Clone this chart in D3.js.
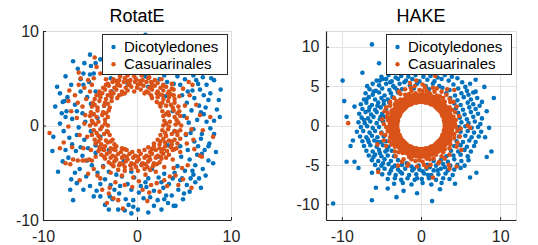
<!DOCTYPE html>
<html>
<head>
<meta charset="utf-8">
<script src="https://cdn.jsdelivr.net/npm/d3@7"></script>
<style>
  body { margin: 0; background: #fff; }
  svg { display: block; font-family: "Liberation Sans", Arial, sans-serif; }
</style>
</head>
<body>
<svg id="chart" width="538" height="245"></svg>
<script>
let series_names = ["Dicotyledones", "Casuarinales"]
let series_colors = ["#0072BD", "#D95319"]

let rotate_x_ticks = [-10, 0, 10]
let rotate_y_ticks = [-10, 0, 10]
let hake_x_ticks = [-10, 0, 10]
let hake_y_ticks = [-10, -5, 0, 5, 10]

// RotatE, Dicotyledones
let rotate_blue = [
  [0.9,9.6],[-5.0,7.5],[-6.8,6.8],[-8.7,2.0],[-8.2,3.4],[-7.7,2.6],[-7.0,4.3],[-8.2,0.2],[-8.4,-4.9],[-6.8,-7.9],[-0.6,-9.3],[2.6,-8.9],[3.9,-8.5],[4.1,-8.5],[8.1,-4.0],[8.7,2.7],[8.5,1.7],[8.2,4.8],[6.3,4.8],[6.7,3.8],[7.6,2.7],[7.1,1.2],[7.7,-1.9],[7.6,-2.2],[6.5,-2.2],[6.9,-3.0],[6.0,-5.2],[5.7,-5.6],[4.8,-5.6],[2.8,-6.6],[-2.9,-7.5],[-3.9,-7.5],[-0.4,-7.9],[-0.4,-8.6],[0.7,-7.7],
  [-5.7,5.5],[-5.0,5.4],[-4.6,5.5],[-5.7,4.3],[-7.9,2.5],[-7.5,1.5],[-6.3,6.0],[-4.4,6.6],[-3.9,7.0],[-6.0,3.6],[-5.3,3.0],[-6.6,2.2],[-5.8,1.3],[-4.9,2.3],[-4.4,3.6],[-5.1,4.6],[-6.9,0.7],[-6.2,-0.2],[-5.5,0.4],[-4.7,1.2],[-7.8,-0.6],
  [-7.2,-1.3],[-6.4,-1.0],[-5.6,-1.5],[-4.9,-0.6],[-5.2,-2.4],[-6.5,-2.7],[-7.3,-3.4],[-4.4,-2.9],[-5.8,-3.2],[-4.8,-4.2],[-6.1,-4.6],[-5.4,-5.4],[-4.2,-5.0],[-3.6,-4.3],[-6.4,-6.1],[-5.0,-6.4],[-4.3,-6.9],[-3.4,-5.7],[-2.8,-6.3],[-2.2,-5.2],[-3.0,-4.9],[-4.6,-7.5],
  [-1.6,-5.4],[-1.0,-6.2],[-0.3,-5.5],[0.4,-6.4],[1.2,-5.6],[1.8,-6.9],[2.3,-5.5],[-1.9,-7.2],[-1.2,-7.8],[0.2,-7.1],[1.4,-7.6],[2.2,-7.9],[3.1,-7.4],[3.4,-6.2],[2.9,-5.1],[3.8,-5.6],[4.4,-6.8],[-0.9,-8.4],[1.8,-8.5],[3.3,-8.2],
  [4.3,-4.3],[5.1,-4.8],[5.6,-3.6],[4.7,-3.3],[6.2,-4.2],[5.4,-2.6],[6.1,-1.7],[7.2,-2.6],[7.0,-4.6],[6.6,-5.6],[4.0,-5.0],[5.3,-6.3],[7.6,-3.7],
  [5.2,-1.0],[6.0,-0.4],[6.9,-0.9],[7.8,-0.3],[5.5,0.3],[6.4,0.6],[7.4,0.4],[5.0,1.0],[5.8,1.6],[6.6,2.1],[5.3,2.4],[7.3,1.9],[8.2,0.5],[6.1,2.9],[5.4,3.6],[4.6,4.3],[5.1,4.9],[7.0,5.1],[7.4,4.3],[6.0,5.3],
  [-2.8,5.0],[0.9,5.2],[2.4,4.9],[3.2,4.6],[3.9,4.4],[2.9,5.3],[4.3,5.2],
  [-3.5,2.1],[-4.2,0.8],[-3.9,-1.2],[-3.0,-2.6],[-1.4,-3.7],[0.5,-4.1],[2.2,-3.3],[3.3,-2.1],[4.0,-0.6],[3.8,1.5],[3.0,3.1],[1.2,4.1],[-1.0,4.4],[-2.7,3.6],[-4.4,-2.1],[4.6,-2.2],[-0.6,-4.9],[1.6,-4.6],
  [-6.0,4.9],[-4.9,6.3],[-7.4,3.0],[-6.4,1.5],[-7.6,0.9],[-6.9,-2.0],[-6.0,-2.3],[-5.3,-3.7],[-3.9,-6.2],[-2.4,-6.8],[-0.6,-6.8],[1.0,-6.5],[2.6,-6.0],[4.6,-5.8],[5.9,-4.8],[6.4,-3.1],[6.8,-1.4],[5.7,-0.8],[6.8,1.4],[5.9,3.7],[4.8,3.2],[6.5,4.4],[7.8,3.4],[-6.6,-5.0],[-7.6,-2.6],[-8.0,1.3],[-2.6,-7.8],[0.1,-8.9],[-3.4,-8.4],[5.0,-7.2],
  [-8.9,-1.2],[-7.0,-5.7],[-5.7,-6.8],[-2.0,-8.9],[1.2,-9.2],[4.9,-7.8],[6.8,-6.6],[8.4,-2.8],[8.8,0.9],[8.9,3.8],[7.9,5.0],[-5.6,6.6],[-7.6,5.2],[-8.5,4.1],[-9.0,-2.7],[-7.1,-6.8],[-1.3,-9.0],[2.9,-7.8],[5.6,-7.0],[7.3,-5.3],[8.2,-0.9],[7.1,3.2],[-7.9,-3.8],[-3.0,-8.9],[0.9,-6.0],[-1.8,-6.4],[3.7,-7.4],[6.2,-6.0]
]

// RotatE, Casuarinales
let rotate_orange = [
  [-1.8,5.2],[-1.0,5.3],[-0.3,5.2],[0.5,5.3],[1.3,5.1],
  [-2.5,4.9],[-1.9,4.8],[-1.3,5.0],[-0.7,4.8],[-0.1,4.9],[0.6,4.8],[1.2,5.0],[1.9,4.8],[2.6,4.9],
  [-3.1,4.4],[-2.6,4.6],[-2.0,4.4],[-1.4,4.6],[-0.8,4.4],[-0.2,4.6],[0.4,4.4],[1.0,4.6],[1.6,4.4],[2.2,4.5],[2.8,4.3],
  [-3.6,4.0],[-3.0,4.2],[-2.4,4.0],[-1.8,4.2],[-1.2,4.0],[-0.6,4.1],[0.0,4.0],[0.7,4.2],[1.3,4.0],[1.9,4.2],[2.5,4.0],[3.1,4.1],[3.7,3.9],
  [-4.0,3.6],[-3.4,3.8],[-2.8,3.6],[-2.2,3.8],[-1.6,3.6],[-1.0,3.7],[-0.3,3.6],[0.4,3.8],[1.0,3.6],[1.6,3.8],[2.2,3.6],[2.8,3.7],[3.4,3.6],[3.9,3.8],
  [-4.3,3.2],[-3.7,3.4],[-3.1,3.2],[-2.5,3.4],[-1.9,3.2],[-1.3,3.4],[0.8,3.4],[1.5,3.2],[2.1,3.4],[2.7,3.2],[3.3,3.4],[3.9,3.2],
  [-4.5,2.8],[-3.9,3.0],[-3.3,2.8],[-2.7,3.0],[-2.1,2.9],[1.6,2.9],[2.2,3.0],[2.8,2.8],[3.4,3.0],[4.0,2.8],
  [-4.7,2.4],[-4.0,2.6],[-3.4,2.4],[-2.7,2.6],[2.1,2.5],[2.7,2.4],[3.3,2.6],[4.0,2.4],
  [-4.8,2.0],[-4.2,1.9],[-3.5,2.1],[-2.9,1.9],[2.5,2.0],[3.1,2.1],[3.8,1.9],[4.4,2.0],
  [-4.9,1.4],[-4.2,1.6],[-3.6,1.4],[-3.0,1.6],[2.7,1.5],[3.3,1.4],[3.9,1.6],[4.5,1.5],
  [-5.0,1.0],[-4.3,0.9],[-3.7,1.1],[-3.1,0.9],[2.8,1.0],[3.4,1.1],[4.0,0.9],[4.6,1.0],
  [-4.8,0.5],[-4.1,0.4],[-3.4,0.6],[2.9,0.5],[3.5,0.4],[4.2,0.6],
  [-5.0,0.0],[-4.4,0.1],[-3.7,-0.1],[-3.1,0.0],[2.8,0.0],[3.4,-0.1],[4.1,0.1],[4.7,0.0],
  [-4.6,-0.5],[-3.9,-0.4],[-3.2,-0.6],[2.7,-0.5],[3.3,-0.4],[4.0,-0.6],[4.6,-0.5],
  [-4.8,-1.0],[-4.1,-1.1],[-3.5,-0.9],[-2.9,-1.0],[2.5,-1.0],[3.1,-1.1],[3.7,-0.9],[4.3,-1.0],
  [-4.5,-1.5],[-3.9,-1.4],[-3.3,-1.6],[-2.6,-1.5],[2.2,-1.5],[2.8,-1.4],[3.4,-1.6],[4.0,-1.5],[4.6,-1.4],
  [-4.4,-1.9],[-3.8,-2.0],[-3.1,-1.8],[-2.4,-2.0],[1.8,-1.9],[2.4,-2.0],[3.0,-1.8],[3.7,-2.0],[4.3,-1.9],
  [-4.0,-2.3],[-3.4,-2.2],[-2.8,-2.4],[-2.2,-2.2],[-1.6,-2.4],[1.2,-2.3],[1.8,-2.2],[2.4,-2.4],[3.0,-2.2],[3.6,-2.3],[4.2,-2.4],
  [-4.1,-2.7],[-3.5,-2.6],[-2.9,-2.8],[-2.3,-2.6],[-1.7,-2.8],[-1.1,-2.6],[-0.5,-2.8],[0.2,-2.7],[0.8,-2.6],[1.4,-2.8],[2.0,-2.6],[2.6,-2.8],[3.2,-2.7],[3.8,-2.6],
  [-3.8,-3.1],[-3.2,-3.0],[-2.6,-3.2],[-2.0,-3.0],[-1.4,-3.2],[-0.8,-3.0],[-0.2,-3.2],[0.4,-3.0],[1.0,-3.2],[1.6,-3.0],[2.2,-3.2],[2.8,-3.0],[3.4,-3.1],
  [-3.4,-3.5],[-2.8,-3.4],[-2.2,-3.6],[-1.6,-3.4],[-1.0,-3.6],[-0.4,-3.4],[0.2,-3.6],[0.8,-3.4],[1.4,-3.6],[2.0,-3.4],[2.6,-3.5],[3.1,-3.4],
  [-3.0,-3.9],[-2.4,-3.8],[-1.8,-4.0],[-1.2,-3.8],[-0.6,-4.0],[0.0,-3.8],[0.6,-4.0],[1.2,-3.8],[1.8,-4.0],[2.4,-3.9],
  [-2.5,-4.3],[-1.9,-4.2],[-1.3,-4.4],[-0.7,-4.2],[-0.1,-4.4],[0.5,-4.2],[1.1,-4.4],[1.7,-4.3],
  [-2.0,-4.7],[-1.3,-4.8],[-0.6,-4.6],[0.1,-4.8],[0.8,-4.6],[1.4,-4.7],
  [-2.2,4.7],[-1.0,4.7],[0.3,4.7],[1.5,4.6],[-3.3,4.3],[-2.1,4.3],[-0.9,4.3],[0.1,4.3],[1.6,4.2],[2.8,4.2],
  [-4.0,3.3],[-2.8,3.3],[-1.6,3.3],[1.2,3.5],[2.4,3.3],[3.6,3.3],[-4.5,2.2],[-3.1,2.3],[2.4,2.3],[3.6,2.2],
  [-4.6,1.2],[-3.3,1.3],[3.1,1.2],[4.3,1.3],[-4.7,0.3],[-3.4,0.2],[3.1,0.2],[4.4,0.3],
  [-4.3,-0.8],[-3.1,-0.7],[3.0,-0.8],[4.3,-0.7],[-4.1,-1.7],[-2.8,-1.7],[2.5,-1.7],[3.7,-1.7],
  [-3.7,-2.5],[-2.5,-2.5],[-1.3,-2.5],[1.6,-2.5],[2.8,-2.5],[4.0,-2.5],
  [-3.5,-3.3],[-2.3,-3.3],[-1.1,-3.3],[0.1,-3.3],[1.3,-3.3],[2.5,-3.3],
  [-2.7,-4.1],[-1.5,-4.1],[-0.3,-4.1],[0.9,-4.1],[2.1,-4.1],
  [-9.3,-0.8],[-8.2,-2.4],[-7.6,-4.0],[-7.2,3.7],[-7.3,2.6],[-7.0,1.5],[-7.3,-0.1],[-6.2,5.6],[-6.0,5.0],[-6.2,4.3],[-5.2,4.8],[-4.3,6.2],[-3.9,5.5],[-4.5,7.2],[-6.3,2.4],[-5.5,1.1],[-6.3,-3.7],[-5.8,-3.7],[-5.5,-3.7],[-5.1,-3.6],[-4.8,-3.7],[-5.2,-5.1],[-6.1,-5.8],[-3.9,-5.6],[-3.2,-8.2],[-2.5,-7.7],[-1.5,-8.8],[-2.0,-7.9],[-3.7,-6.8],[1.1,-8.0],[0.6,-6.8],[2.1,-6.1],[4.9,-5.7],[5.8,-6.6],[6.7,-3.2],[8.1,-1.2],[7.8,0.9],[6.7,1.1],[5.6,3.2],[5.9,4.3],[4.9,3.9],[6.0,-1.5],[4.8,-4.5],[3.9,-4.5],[3.5,-5.4],[6.9,-3.3],[5.3,-1.9],
  [-5.4,2.8],[-5.6,0.2],[-5.3,-1.2],[-4.9,-2.6],[-4.4,-3.3],[-3.6,-4.4],[-2.8,-5.0],[-1.6,-5.3],[-0.4,-5.5],[0.9,-5.2],[2.0,-4.9],[2.9,-4.4],[3.8,-3.6],[4.6,-2.8],[5.2,-0.9],[5.3,0.8],[5.1,2.1],[4.5,3.1],[3.7,4.4],[-4.8,4.3],[-5.0,3.6],[-3.3,4.9],[-1.3,-6.3],[-2.3,-6.0],[1.5,-6.3],[-0.5,-6.5],[2.9,-5.8],[-4.6,-4.6],[-6.8,-3.6],[-7.1,-4.1],
  [-5.8,2.0],[-6.4,0.8],[-6.1,-1.0],[-5.7,-2.4],[-6.9,-2.3],[-4.2,-5.3],[-2.9,-6.6],[0.2,-5.9],[1.3,-7.1],[3.2,-6.4],[4.1,-5.3],[5.4,-4.2],[6.1,-2.5],[5.8,-0.4],[6.3,2.2],[5.5,4.6],[-5.6,4.0],[-4.6,5.0],[-3.0,-7.2],[2.4,-7.0],[7.0,-0.5],[-7.8,-1.8],[-6.6,3.2],[4.4,-6.3]
]

// HAKE, Dicotyledones
let hake_blue = [
  [-5.0,6.2],[-4.1,6.4],[-3.2,6.1],[-2.5,6.3],[-1.6,6.2],[-0.7,6.4],[0.3,6.2],[1.2,6.3],[2.1,6.1],[3.0,6.4],[3.9,6.2],[4.6,6.0],
  [-5.6,5.7],[-4.8,5.9],[-3.7,5.6],[-2.9,5.9],[-1.9,5.7],[-1.1,5.9],[-0.2,5.6],[0.8,5.8],[1.7,5.6],[2.6,5.9],[3.5,5.7],[5.2,5.5],
  [-6.1,5.3],[-5.3,5.1],[-4.4,5.3],[-3.5,5.0],[-2.7,5.3],[-1.4,5.1],[-0.5,5.3],[0.6,5.0],[1.5,5.3],[2.3,5.0],[4.1,5.2],[5.6,4.9],[6.2,5.3],
  [-6.5,4.6],[-5.7,4.4],[-4.9,4.7],[-4.0,4.5],[-3.3,4.8],[-2.4,4.6],[-0.9,4.7],[1.0,4.6],[2.7,4.8],[3.6,4.5],[4.7,4.7],[5.8,4.4],[6.6,4.2],
  [-7.0,4.1],[-6.1,3.9],[-5.3,4.2],[-4.6,3.8],[-3.8,4.1],[-2.9,4.2],[3.2,4.1],[4.3,3.8],[5.1,4.1],[6.0,3.9],[6.9,4.3],
  [-7.2,3.3],[-6.6,3.6],[-5.8,3.3],[-5.0,3.5],[-4.2,3.3],[-3.6,3.6],[3.7,3.5],[4.6,3.2],[5.4,3.6],[6.3,3.3],[7.1,3.5],
  [-7.6,2.7],[-6.9,2.9],[-6.2,2.6],[-5.4,2.9],[-4.7,2.7],[-4.0,2.9],[4.2,2.8],[5.0,2.6],[5.9,2.9],[6.6,2.7],[7.4,2.5],
  [-7.4,2.1],[-6.5,2.3],[-5.8,2.0],[-5.1,2.3],[-4.4,2.1],[4.4,2.2],[5.3,2.0],[6.1,2.3],[6.9,2.1],
  [-7.8,1.5],[-7.0,1.7],[-6.3,1.4],[-5.6,1.7],[-4.9,1.5],[4.7,1.6],[5.5,1.4],[6.3,1.7],[7.2,1.5],
  [-7.5,1.0],[-6.7,0.9],[-6.0,1.1],[-5.2,0.8],[-4.6,1.1],[4.9,1.0],[5.8,0.8],[6.6,1.1],[7.7,0.9],
  [-7.9,0.4],[-7.1,0.3],[-6.4,0.5],[-5.6,0.3],[-4.8,0.5],[5.1,0.4],[6.0,0.3],[6.8,0.5],[7.5,0.2],
  [-7.6,-0.2],[-6.8,-0.1],[-6.1,-0.3],[-5.3,-0.2],[4.8,-0.2],[5.6,-0.1],[6.4,-0.3],[7.2,-0.2],
  [-8.1,-0.8],[-7.3,-0.7],[-6.5,-0.9],[-5.8,-0.7],[-5.0,-0.9],[5.0,-0.8],[5.9,-0.7],[6.7,-0.9],[7.6,-0.8],
  [-7.7,-1.4],[-6.9,-1.5],[-6.2,-1.3],[-5.5,-1.5],[-4.7,-1.4],[4.8,-1.4],[5.6,-1.3],[6.4,-1.5],[7.3,-1.4],
  [-7.4,-2.0],[-6.6,-2.1],[-5.9,-1.9],[-5.1,-2.1],[-4.4,-2.0],[4.5,-2.0],[5.3,-2.1],[6.1,-1.9],[6.9,-2.1],
  [-7.2,-2.6],[-6.4,-2.5],[-5.6,-2.7],[-4.8,-2.5],[-4.1,-2.7],[4.2,-2.6],[5.0,-2.5],[5.8,-2.7],[6.7,-2.6],
  [-6.9,-3.2],[-6.1,-3.3],[-5.3,-3.1],[-4.5,-3.3],[-3.7,-3.2],[3.8,-3.2],[4.7,-3.3],[5.5,-3.1],[6.3,-3.3],
  [-6.6,-3.8],[-5.8,-3.7],[-5.0,-3.9],[-4.2,-3.8],[-3.4,-3.9],[3.2,-3.9],[4.1,-3.8],[5.0,-3.7],[5.9,-3.9],
  [-6.2,-4.4],[-5.4,-4.5],[-4.6,-4.3],[-3.8,-4.5],[-2.9,-4.4],[1.6,-4.5],[2.5,-4.4],[3.4,-4.6],[4.2,-4.3],[5.1,-4.5],[6.0,-4.4],
  [-5.8,-5.0],[-5.0,-5.1],[-4.1,-4.9],[-3.3,-5.1],[-2.4,-5.0],[-1.2,-5.2],[-0.3,-5.1],[0.8,-5.0],[1.9,-5.1],[2.8,-4.9],[3.7,-5.1],[4.6,-5.0],[5.5,-5.1],
  [-5.4,-5.6],[-4.6,-5.5],[-3.8,-5.7],[-2.9,-5.6],[-2.0,-5.5],[-1.1,-5.7],[-0.2,-5.6],[0.7,-5.5],[1.6,-5.7],[2.5,-5.5],[3.4,-5.7],[4.2,-5.6],[5.0,-5.4],
  [-4.9,-6.2],[-4.0,-6.1],[-3.2,-6.3],[-2.4,-6.1],[-1.5,-6.3],[-0.6,-6.2],[0.4,-6.1],[1.3,-6.3],[2.2,-6.2],[3.1,-6.1],[4.0,-6.3],
  [-4.2,-6.8],[-3.3,-6.7],[-2.5,-6.9],[-1.7,-6.7],[-0.8,-6.9],[0.1,-6.8],[1.0,-6.7],[1.9,-6.9],[2.8,-6.7],[3.6,-6.8],
  [-3.4,-7.4],[-2.3,-7.3],[-1.2,-7.5],[0.2,-7.3],[1.3,-7.5],[2.6,-7.3],
  [-6.8,5.0],[-6.0,4.3],[-5.2,5.7],[-4.4,5.9],[-6.9,3.3],[-5.5,2.5],[-4.7,3.1],[-6.6,1.9],[-5.1,1.1],[-7.2,0.7],[-3.9,5.5],[-3.0,4.5],[-2.1,5.5],
  [-6.7,-1.8],[-5.5,-2.1],[-6.0,-4.0],[-4.8,-4.8],[-3.6,-5.3],[-5.2,-3.5],[-4.3,-3.1],[-2.6,-5.9],[-1.8,-4.8],[-0.9,-5.5],
  [0.2,-5.8],[1.1,-5.3],[2.1,-5.7],[-0.5,-6.7],[0.9,-6.3],[3.0,-5.3],
  [-11.1,-9.9],[-6.2,10.3],[-9.9,5.7],[-9.7,3.1],[-8.4,2.4],[-9.4,1.1],[-7.4,6.7],[-5.3,7.9],[-6.2,-9.5],[1.4,-9.6],[-3.1,-9.1],[-0.5,-8.6],[9.2,3.5],[8.9,-3.3],[8.0,4.9],[7.0,-6.0],[8.6,-0.3],[-9.4,-4.6],[-8.4,-4.6],[-5.7,-7.9],[-6.2,-6.0],[-8.6,-1.9],[-8.9,-2.6],[8.3,1.8],[8.1,-1.5],[6.2,-6.6],[-2.2,-8.3],[2.4,-8.1],[-7.9,-5.4],[7.7,3.0],[-4.2,-8.0],[4.3,-7.4],[6.9,5.8],[8.3,-4.0]
]

// HAKE, Casuarinales
let hake_orange = [
  [3,0],[3,0.3],[2.9,0.6],[2.9,0.9],[2.7,1.2],[2.6,1.5],[2.4,1.8],[2.2,2],[2,2.2],[1.8,2.4],[1.5,2.6],[1.2,2.7],[0.9,2.9],[0.6,2.9],[0.3,3],
  [3.5,0.2],[3.4,0.5],[3.3,0.9],[3.2,1.2],[3.1,1.6],[2.9,1.9],[2.7,2.2],[2.4,2.4],[2.2,2.7],[1.9,2.9],[1.6,3.1],[1.2,3.2],[0.9,3.3],[0.5,3.4],[0.2,3.5],
  [3.9,0],[3.9,0.4],[3.8,0.8],[3.7,1.2],[3.6,1.6],[3.4,2],[3.2,2.3],[2.9,2.6],[2.6,2.9],[2.3,3.2],[2,3.4],[1.6,3.6],[1.2,3.7],[0.8,3.8],[0.4,3.9],
  [4.3,0.2],[4.4,0.7],[4.1,1.1],[4.3,1.7],[3.9,2],[3.6,2.3],[3.7,3],[3,3],[2.8,3.5],[2.4,3.7],[2,3.8],[1.7,4.3],[1.1,4.1],[0.7,4.4],[0.2,4.4],
  [3.45,0],[3.43,0.36],[3.37,0.72],[3.28,1.07],[3.15,1.4],[2.99,1.73],[2.79,2.03],[2.56,2.31],[2.31,2.56],[2.03,2.79],[1.73,2.99],[1.4,3.15],[1.07,3.28],[0.72,3.37],[0.36,3.43],
  [3.94,0.21],[3.9,0.62],[3.82,1.02],[3.69,1.42],[3.52,1.79],[3.31,2.15],[3.07,2.48],[2.79,2.79],[2.48,3.07],[2.15,3.31],[1.79,3.52],[1.42,3.69],[1.02,3.82],[0.62,3.9],[0.21,3.94],
  [0,3],[-0.3,3],[-0.6,2.9],[-0.9,2.9],[-1.2,2.7],[-1.5,2.6],[-1.8,2.4],[-2,2.2],[-2.2,2],[-2.4,1.8],[-2.6,1.5],[-2.7,1.2],[-2.9,0.9],[-2.9,0.6],[-3,0.3],
  [-0.2,3.5],[-0.5,3.4],[-0.9,3.3],[-1.2,3.2],[-1.6,3.1],[-1.9,2.9],[-2.2,2.7],[-2.4,2.4],[-2.7,2.2],[-2.9,1.9],[-3.1,1.6],[-3.2,1.2],[-3.3,0.9],[-3.4,0.5],[-3.5,0.2],
  [0,3.9],[-0.4,3.9],[-0.8,3.8],[-1.2,3.7],[-1.6,3.6],[-2,3.4],[-2.3,3.2],[-2.6,2.9],[-2.9,2.6],[-3.2,2.3],[-3.4,2],[-3.6,1.6],[-3.7,1.2],[-3.8,0.8],[-3.9,0.4],
  [-0.2,4.5],[-0.7,4.1],[-1.2,4.4],[-1.5,4],[-2,3.9],[-2.6,4],[-2.6,3.3],[-3.1,3.1],[-3.3,2.7],[-3.9,2.5],[-3.7,1.9],[-4.2,1.6],[-4.3,1.1],[-4.2,0.7],[-4.7,0.2],
  [0,3.45],[-0.36,3.43],[-0.72,3.37],[-1.07,3.28],[-1.4,3.15],[-1.73,2.99],[-2.03,2.79],[-2.31,2.56],[-2.56,2.31],[-2.79,2.03],[-2.99,1.73],[-3.15,1.4],[-3.28,1.07],[-3.37,0.72],[-3.43,0.36],
  [-0.21,3.94],[-0.62,3.9],[-1.02,3.82],[-1.42,3.69],[-1.79,3.52],[-2.15,3.31],[-2.48,3.07],[-2.79,2.79],[-3.07,2.48],[-3.31,2.15],[-3.52,1.79],[-3.69,1.42],[-3.82,1.02],[-3.9,0.62],[-3.94,0.21],
  [-3,0],[-3,-0.3],[-2.9,-0.6],[-2.9,-0.9],[-2.7,-1.2],[-2.6,-1.5],[-2.4,-1.8],[-2.2,-2],[-2,-2.2],[-1.8,-2.4],[-1.5,-2.6],[-1.2,-2.7],[-0.9,-2.9],[-0.6,-2.9],[-0.3,-3],
  [-3.5,-0.2],[-3.4,-0.5],[-3.3,-0.9],[-3.2,-1.2],[-3.1,-1.6],[-2.9,-1.9],[-2.7,-2.2],[-2.4,-2.4],[-2.2,-2.7],[-1.9,-2.9],[-1.6,-3.1],[-1.2,-3.2],[-0.9,-3.3],[-0.5,-3.4],[-0.2,-3.5],
  [-3.9,0],[-3.9,-0.4],[-3.8,-0.8],[-3.7,-1.2],[-3.6,-1.6],[-3.4,-2],[-3.2,-2.3],[-2.9,-2.6],[-2.6,-2.9],[-2.3,-3.2],[-2,-3.4],[-1.6,-3.6],[-1.2,-3.7],[-0.8,-3.8],[-0.4,-3.9],
  [-4.4,-0.2],[-4.2,-0.7],[-4.5,-1.2],[-3.9,-1.5],[-4,-2],[-3.7,-2.4],[-3.3,-2.7],[-3.3,-3.3],[-2.8,-3.4],[-2.3,-3.5],[-2.2,-4.3],[-1.5,-4],[-1.2,-4.3],[-0.7,-4.5],[-0.2,-4.4],
  [-3.45,0],[-3.43,-0.36],[-3.37,-0.72],[-3.28,-1.07],[-3.15,-1.4],[-2.99,-1.73],[-2.79,-2.03],[-2.56,-2.31],[-2.31,-2.56],[-2.03,-2.79],[-1.73,-2.99],[-1.4,-3.15],[-1.07,-3.28],[-0.72,-3.37],[-0.36,-3.43],
  [-3.94,-0.21],[-3.9,-0.62],[-3.82,-1.02],[-3.69,-1.42],[-3.52,-1.79],[-3.31,-2.15],[-3.07,-2.48],[-2.79,-2.79],[-2.48,-3.07],[-2.15,-3.31],[-1.79,-3.52],[-1.42,-3.69],[-1.02,-3.82],[-0.62,-3.9],[-0.21,-3.94],
  [0,-3],[0.3,-3],[0.6,-2.9],[0.9,-2.9],[1.2,-2.7],[1.5,-2.6],[1.8,-2.4],[2,-2.2],[2.2,-2],[2.4,-1.8],[2.6,-1.5],[2.7,-1.2],[2.9,-0.9],[2.9,-0.6],[3,-0.3],
  [0.2,-3.5],[0.5,-3.4],[0.9,-3.3],[1.2,-3.2],[1.6,-3.1],[1.9,-2.9],[2.2,-2.7],[2.4,-2.4],[2.7,-2.2],[2.9,-1.9],[3.1,-1.6],[3.2,-1.2],[3.3,-0.9],[3.4,-0.5],[3.5,-0.2],
  [0,-3.9],[0.4,-3.9],[0.8,-3.8],[1.2,-3.7],[1.6,-3.6],[2,-3.4],[2.3,-3.2],[2.6,-2.9],[2.9,-2.6],[3.2,-2.3],[3.4,-2],[3.6,-1.6],[3.7,-1.2],[3.8,-0.8],[3.9,-0.4],
  [0.2,-4.6],[0.7,-4.2],[1.1,-4.3],[1.6,-4.2],[1.9,-3.7],[2.6,-3.9],[2.8,-3.4],[3,-3],[3.6,-2.9],[3.7,-2.4],[3.7,-1.9],[4.2,-1.6],[4.2,-1.1],[4.6,-0.7],[4.4,-0.2],
  [0,-3.45],[0.36,-3.43],[0.72,-3.37],[1.07,-3.28],[1.4,-3.15],[1.73,-2.99],[2.03,-2.79],[2.31,-2.56],[2.56,-2.31],[2.79,-2.03],[2.99,-1.73],[3.15,-1.4],[3.28,-1.07],[3.37,-0.72],[3.43,-0.36],
  [0.21,-3.94],[0.62,-3.9],[1.02,-3.82],[1.42,-3.69],[1.79,-3.52],[2.15,-3.31],[2.48,-3.07],[2.79,-2.79],[3.07,-2.48],[3.31,-2.15],[3.52,-1.79],[3.69,-1.42],[3.82,-1.02],[3.9,-0.62],[3.94,-0.21],
  [0.5,4.9],[-0.8,5.0],[1.5,4.8],[-2.0,4.6],[2.6,4.3],[-3.4,3.5],[3.6,3.4],[-4.4,2.3],[4.8,1.2],[-4.9,0.8],[5.0,-0.4],[-5.0,-1.0],[4.6,-2.2],[-4.4,-2.6],[3.6,-3.7],[-3.2,-3.9],[2.3,-4.6],[-1.6,-4.9],[0.4,-5.0],[-0.5,-5.2],[1.2,-5.0],[-2.4,-4.6],[3.0,-4.2],[4.9,-1.4],[-4.7,-1.9],[-4.6,1.8],[4.5,2.4],[2.0,4.7],[-1.3,4.8],[0.2,5.2],[-2.8,4.3],[3.2,3.9],[-3.9,3.0],[4.1,3.0],
  [1.8,6.3],[-1.4,5.4],[3.3,4.6],[4.2,4.5],[6.2,-0.3],[5.1,-3.1],[4.5,-5.2],[3.5,-5.0],[0.7,-5.3],[1.5,-6.6],[-1.7,-5.1],[-2.9,-5.1],[-5.5,-2.4],[-9.2,0.3],[-5.4,-5.9],[4.5,-2.7],[5.9,0.0],[3.6,-5.5],[2.2,-4.8],[-0.6,5.7]
]

let panels = [
  {title: "RotatE", data: [rotate_blue, rotate_orange], x_dom: [-10, 10], y_dom: [-10, 10],
   x_ticks: rotate_x_ticks, y_ticks: rotate_y_ticks, left: 43, right: 231, legend_x: 102, pad: 4},
  {title: "HAKE", data: [hake_blue, hake_orange], x_dom: [-12, 12], y_dom: [-12, 12],
   x_ticks: hake_x_ticks, y_ticks: hake_y_ticks, left: 326, right: 516, legend_x: 386, pad: 6.5}
]

let plot_top = 31
let plot_bottom = 220
let svg = d3.select("#chart")

panels.forEach((p, pi) => {
  let x = d3.scaleLinear().domain(p.x_dom).range([p.left, p.right])
  let y = d3.scaleLinear().domain(p.y_dom).range([plot_bottom, plot_top])
  let g = svg.append("g")

  // grid
  g.append("g").selectAll("line")
    .data(p.x_ticks)
    .enter().append("line")
      .attr("x1", d => Math.round(x(d)) + 0.5).attr("x2", d => Math.round(x(d)) + 0.5)
      .attr("y1", plot_top).attr("y2", plot_bottom)
      .attr("stroke", "#e3e3e3")
  g.append("g").selectAll("line")
    .data(p.y_ticks)
    .enter().append("line")
      .attr("y1", d => Math.round(y(d)) + 0.5).attr("y2", d => Math.round(y(d)) + 0.5)
      .attr("x1", p.left).attr("x2", p.right)
      .attr("stroke", "#e3e3e3")

  // top and right edges
  g.append("path")
    .attr("d", "M" + p.left + "," + (plot_top + 0.5) + "H" + (p.right + 0.5) + "V" + plot_bottom)
    .attr("fill", "none")
    .attr("stroke", "#dcdcdc")

  svg.append("clipPath").attr("id", "clip" + pi)
    .append("rect")
      .attr("x", p.left).attr("y", plot_top)
      .attr("width", p.right - p.left).attr("height", plot_bottom - plot_top)

  let pts = g.append("g").attr("clip-path", "url(#clip" + pi + ")")
  p.data.forEach((s, si) => {
    pts.append("g").selectAll("circle")
      .data(s)
      .enter().append("circle")
        .attr("cx", d => x(d[0]))
        .attr("cy", d => y(d[1]))
        .attr("r", 2.3)
        .attr("fill", series_colors[si])
  })

  // axes
  let x_axis = g.append("g")
    .attr("transform", "translate(0," + plot_bottom + ")")
    .call(d3.axisBottom(x).tickValues(p.x_ticks).tickSize(-3).tickSizeOuter(0).tickFormat(d => String(d)))
  x_axis.selectAll("text").attr("y", 21.5).attr("dy", 0)

  let y_axis = g.append("g")
    .attr("transform", "translate(" + p.left + ",0)")
    .call(d3.axisLeft(y).tickValues(p.y_ticks).tickSize(-3).tickSizeOuter(0).tickPadding(p.pad).tickFormat(d => String(d)))

  ;[x_axis, y_axis].forEach(a => {
    a.select(".domain").attr("stroke", "#262626").attr("stroke-width", 1.2)
    a.selectAll(".tick line").attr("stroke", "#262626")
    a.selectAll("text").attr("fill", "#262626").style("font-size", "16px")
      .style("font-family", "'Liberation Sans', Arial, sans-serif")
  })

  // title
  g.append("text")
    .attr("x", (p.left + p.right) / 2)
    .attr("y", 21.7)
    .attr("text-anchor", "middle")
    .style("font-size", "18px")
    .attr("fill", "#000")
    .text(p.title)

  // legend
  let lg = g.append("g").attr("transform", "translate(" + p.legend_x + ",34)")
  lg.append("rect")
    .attr("x", 0.5).attr("y", 0.5)
    .attr("width", 125).attr("height", 40)
    .attr("fill", "#fff")
    .attr("stroke", "#262626")
    .attr("stroke-width", 1)
  series_names.forEach((name, si) => {
    lg.append("circle")
      .attr("cx", 11.5).attr("cy", 13 + si * 17.3)
      .attr("r", 2.2)
      .attr("fill", series_colors[si])
    lg.append("text")
      .attr("x", 22).attr("y", 18 + si * 17.3)
      .style("font-size", "15px")
      .attr("fill", "#000")
      .text(name)
  })
})
</script>
</body>
</html>
